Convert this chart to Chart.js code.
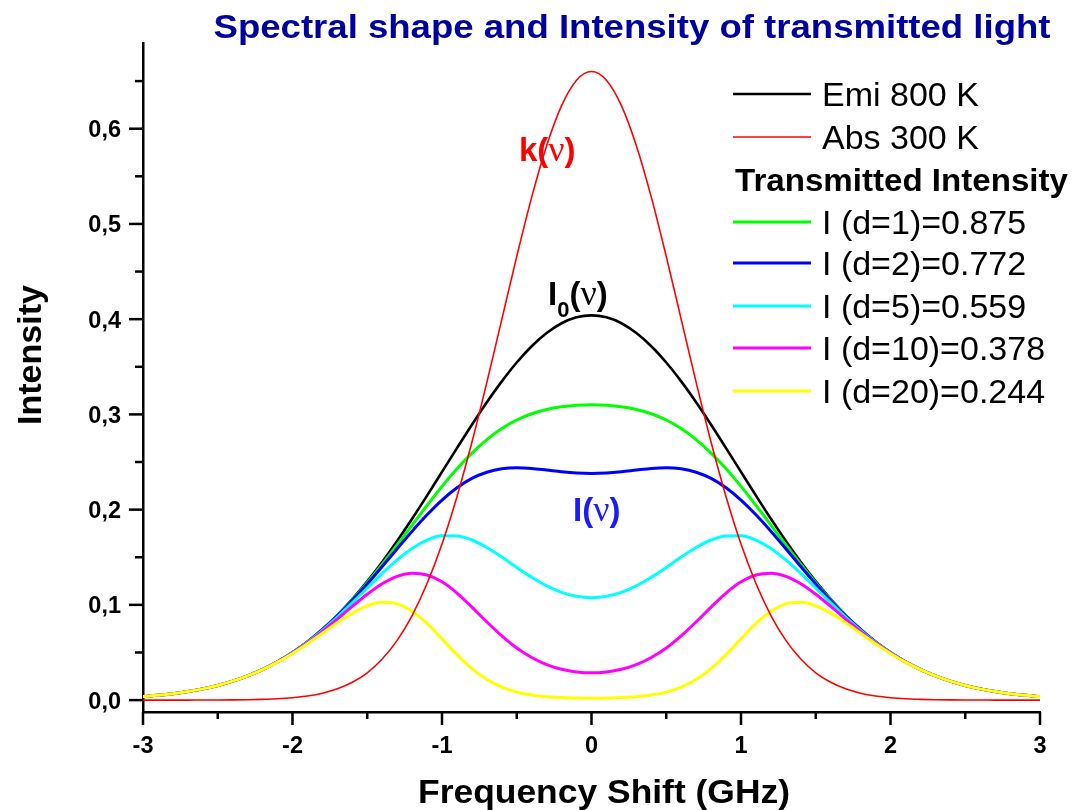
<!DOCTYPE html>
<html>
<head>
<meta charset="utf-8">
<script src="https://cdn.jsdelivr.net/npm/chart.js@4.4.1/dist/chart.umd.min.js"></script>
<style>
  html, body { margin: 0; padding: 0; background: #ffffff; }
  #wrap { width: 1074px; height: 810px; position: relative; }
</style>
</head>
<body>
<div id="wrap"><canvas id="c" width="1074" height="810"></canvas></div>
<script>
// ---- data ----
const freq = [-3.0,-2.9,-2.8,-2.7,-2.6,-2.5,-2.4,-2.3,-2.2,-2.1,-2.0,-1.9,-1.8,-1.7,-1.6,-1.5,-1.4,-1.3,-1.2,-1.1,-1.0,-0.9,-0.8,-0.7,-0.6,-0.5,-0.4,-0.3,-0.2,-0.1,0.0,0.1,0.2,0.3,0.4,0.5,0.6,0.7,0.8,0.9,1.0,1.1,1.2,1.3,1.4,1.5,1.6,1.7,1.8,1.9,2.0,2.1,2.2,2.3,2.4,2.5,2.6,2.7,2.8,2.9,3.0];

const emi800 = [0.0037,0.0050,0.0067,0.0090,0.0118,0.0154,0.0199,0.0255,0.0322,0.0403,0.0500,0.0613,0.0743,0.0893,0.1061,0.1247,0.1451,0.1671,0.1904,0.2147,0.2396,0.2646,0.2892,0.3128,0.3347,0.3545,0.3716,0.3854,0.3957,0.4019,0.4040,0.4019,0.3957,0.3854,0.3716,0.3545,0.3347,0.3128,0.2892,0.2646,0.2396,0.2147,0.1904,0.1671,0.1451,0.1247,0.1061,0.0893,0.0743,0.0613,0.0500,0.0403,0.0322,0.0255,0.0199,0.0154,0.0118,0.0090,0.0067,0.0050,0.0037];

const abs300 = [0.0000,0.0000,0.0000,0.0000,0.0001,0.0001,0.0002,0.0004,0.0008,0.0014,0.0025,0.0043,0.0072,0.0118,0.0187,0.0287,0.0431,0.0627,0.0888,0.1224,0.1639,0.2136,0.2707,0.3336,0.3998,0.4659,0.5282,0.5822,0.6242,0.6509,0.6600,0.6509,0.6242,0.5822,0.5282,0.4659,0.3998,0.3336,0.2707,0.2136,0.1639,0.1224,0.0888,0.0627,0.0431,0.0287,0.0187,0.0118,0.0072,0.0043,0.0025,0.0014,0.0008,0.0004,0.0002,0.0001,0.0001,0.0000,0.0000,0.0000,0.0000];

const transD1 = [0.0037,0.0050,0.0067,0.0090,0.0118,0.0154,0.0199,0.0255,0.0322,0.0403,0.0499,0.0612,0.0741,0.0888,0.1053,0.1233,0.1426,0.1629,0.1837,0.2044,0.2244,0.2429,0.2594,0.2736,0.2852,0.2941,0.3007,0.3052,0.3080,0.3096,0.3101,0.3096,0.3080,0.3052,0.3007,0.2941,0.2852,0.2736,0.2594,0.2429,0.2244,0.2044,0.1837,0.1629,0.1426,0.1233,0.1053,0.0888,0.0741,0.0612,0.0499,0.0403,0.0322,0.0255,0.0199,0.0154,0.0118,0.0090,0.0067,0.0050,0.0037];

const transD2 = [0.0037,0.0050,0.0067,0.0090,0.0118,0.0154,0.0199,0.0255,0.0322,0.0403,0.0499,0.0611,0.0739,0.0884,0.1045,0.1219,0.1402,0.1589,0.1773,0.1946,0.2101,0.2230,0.2328,0.2393,0.2429,0.2440,0.2433,0.2416,0.2398,0.2385,0.2380,0.2385,0.2398,0.2416,0.2433,0.2440,0.2429,0.2393,0.2328,0.2230,0.2101,0.1946,0.1773,0.1589,0.1402,0.1219,0.1045,0.0884,0.0739,0.0611,0.0499,0.0403,0.0322,0.0255,0.0199,0.0154,0.0118,0.0090,0.0067,0.0050,0.0037];

const transD5 = [0.0037,0.0050,0.0067,0.0090,0.0118,0.0154,0.0199,0.0255,0.0322,0.0402,0.0497,0.0608,0.0733,0.0872,0.1022,0.1177,0.1331,0.1473,0.1593,0.1680,0.1725,0.1724,0.1681,0.1602,0.1502,0.1393,0.1289,0.1199,0.1132,0.1090,0.1076,0.1090,0.1132,0.1199,0.1289,0.1393,0.1502,0.1602,0.1681,0.1724,0.1725,0.1680,0.1593,0.1473,0.1331,0.1177,0.1022,0.0872,0.0733,0.0608,0.0497,0.0402,0.0322,0.0255,0.0199,0.0154,0.0118,0.0090,0.0067,0.0050,0.0037];

const transD10 = [0.0037,0.0050,0.0067,0.0090,0.0118,0.0154,0.0199,0.0254,0.0321,0.0401,0.0495,0.0602,0.0722,0.0851,0.0984,0.1111,0.1221,0.1299,0.1333,0.1314,0.1242,0.1124,0.0977,0.0821,0.0674,0.0547,0.0447,0.0373,0.0324,0.0296,0.0286,0.0296,0.0324,0.0373,0.0447,0.0547,0.0674,0.0821,0.0977,0.1124,0.1242,0.1314,0.1333,0.1299,0.1221,0.1111,0.0984,0.0851,0.0722,0.0602,0.0495,0.0401,0.0321,0.0254,0.0199,0.0154,0.0118,0.0090,0.0067,0.0050,0.0037];

const transD20 = [0.0037,0.0050,0.0067,0.0090,0.0118,0.0154,0.0199,0.0254,0.0320,0.0399,0.0490,0.0592,0.0702,0.0812,0.0913,0.0990,0.1027,0.1010,0.0934,0.0805,0.0643,0.0477,0.0330,0.0216,0.0136,0.0084,0.0054,0.0036,0.0026,0.0022,0.0020,0.0022,0.0026,0.0036,0.0054,0.0084,0.0136,0.0216,0.0330,0.0477,0.0643,0.0805,0.0934,0.1010,0.1027,0.0990,0.0913,0.0812,0.0702,0.0592,0.0490,0.0399,0.0320,0.0254,0.0199,0.0154,0.0118,0.0090,0.0067,0.0050,0.0037];

const seriesLabels = ['Emi 800 K','Abs 300 K','I (d=1)=0.875','I (d=2)=0.772','I (d=5)=0.559','I (d=10)=0.378','I (d=20)=0.244'];
const legendHeader = 'Transmitted Intensity';

const xTickValues = [-3,-2,-1,0,1,2,3];
const xTickLabels = ['-3','-2','-1','0','1','2','3'];
const xMinorValues = [-2.5,-1.5,-0.5,0.5,1.5,2.5];
const yTickValues = [0,0.1,0.2,0.3,0.4,0.5,0.6];
const yTickLabels = ['0,0','0,1','0,2','0,3','0,4','0,5','0,6'];
const yMinorValues = [0.05,0.15,0.25,0.35,0.45,0.55,0.65];

const titleText = 'Spectral shape and Intensity of transmitted light';
const xTitle = 'Frequency Shift (GHz)';
const yTitle = 'Intensity';

// ---- styling ----
const colors = ['#000000','#ff0000','#00ff00','#0000ff','#00ffff','#ff00ff','#ffff00'];
const widths = [2.6,1.6,3,3,3,3,3];
const drawOrder = [6,0,5,4,3,2,1];
const SANS = '"Liberation Sans", Arial, sans-serif';
const SERIF = '"Liberation Serif", "DejaVu Serif", serif';

const allSeries = [emi800, abs300, transD1, transD2, transD5, transD10, transD20];
const datasets = allSeries.map((vals, i) => ({
  label: seriesLabels[i],
  data: freq.map((f, j) => ({x: f, y: vals[j]})),
  borderColor: colors[i],
  backgroundColor: colors[i],
  borderWidth: widths[i],
  pointRadius: 0,
  fill: false,
  cubicInterpolationMode: 'monotone',
  order: drawOrder[i]
}));

// draw text, scaled horizontally so that it spans a given width when one is given
function fitText(ctx, text, x, y, font, color, align, targetW) {
  ctx.save();
  ctx.font = font;
  ctx.fillStyle = color;
  ctx.textBaseline = 'alphabetic';
  ctx.textAlign = 'left';
  const nat = ctx.measureText(text).width;
  const sx = targetW ? targetW / nat : 1;
  const w = nat * sx;
  let x0 = x;
  if (align === 'center') x0 = x - w / 2;
  else if (align === 'right') x0 = x - w;
  ctx.translate(x0, y);
  ctx.scale(sx, 1);
  ctx.fillText(text, 0, 0);
  ctx.restore();
  return w;
}

function richText(ctx, parts, x, y) {
  let cx = x;
  parts.forEach(p => {
    cx += fitText(ctx, p.t, cx, y + (p.dy || 0), p.font, p.color, 'left');
  });
}

const decor = {
  id: 'decor',
  afterDraw(chart) {
    const ctx = chart.ctx;
    const xs = chart.scales.x, ys = chart.scales.y;
    const ca = chart.chartArea;
    ctx.save();
    ctx.strokeStyle = '#000';
    ctx.lineWidth = 2.5;
    const yAxisX = ca.left;
    yTickValues.forEach(v => {
      const py = ys.getPixelForValue(v);
      ctx.beginPath(); ctx.moveTo(yAxisX - 14, py); ctx.lineTo(yAxisX, py); ctx.stroke();
    });
    yMinorValues.forEach(v => {
      const py = ys.getPixelForValue(v);
      ctx.beginPath(); ctx.moveTo(yAxisX - 8, py); ctx.lineTo(yAxisX, py); ctx.stroke();
    });
    const xAxisY = ca.bottom;
    xTickValues.forEach(v => {
      const px = xs.getPixelForValue(v);
      ctx.beginPath(); ctx.moveTo(px, xAxisY); ctx.lineTo(px, xAxisY + 13); ctx.stroke();
    });
    xMinorValues.forEach(v => {
      const px = xs.getPixelForValue(v);
      ctx.beginPath(); ctx.moveTo(px, xAxisY); ctx.lineTo(px, xAxisY + 7); ctx.stroke();
    });
    ctx.restore();

    // tick labels
    const tickFont = 'bold 23.5px ' + SANS;
    yTickValues.forEach((v, i) => {
      const py = ys.getPixelForValue(v);
      fitText(ctx, yTickLabels[i], yAxisX - 22, py + 8.5, tickFont, '#000', 'right');
    });
    xTickValues.forEach((v, i) => {
      const px = xs.getPixelForValue(v);
      fitText(ctx, xTickLabels[i], px, xAxisY + 41, tickFont, '#000', 'center');
    });

    // title and axis titles
    fitText(ctx, titleText, 632, 38, 'bold 34px ' + SANS, '#0000a0', 'center', 837);
    fitText(ctx, xTitle, 604, 803, 'bold 33px ' + SANS, '#000', 'center', 372);
    ctx.save();
    ctx.translate(41, 355);
    ctx.rotate(-Math.PI / 2);
    fitText(ctx, yTitle, 0, 0, 'bold 33px ' + SANS, '#000', 'center', 140);
    ctx.restore();

    // legend
    const legRows = [94, 137, 222, 263, 306, 348, 391];
    const lx0 = 733, lx1 = 811, tx = 822;
    legRows.forEach((ry, i) => {
      ctx.save();
      ctx.strokeStyle = colors[i];
      ctx.lineWidth = widths[i];
      ctx.beginPath(); ctx.moveTo(lx0, ry); ctx.lineTo(lx1, ry); ctx.stroke();
      ctx.restore();
      fitText(ctx, seriesLabels[i], tx, ry + 12, '34px ' + SANS, '#000', 'left');
    });
    fitText(ctx, legendHeader, 735, 191, 'bold 32px ' + SANS, '#000', 'left', 333);

    // curve annotations
    const bF = 'bold 33px ' + SANS;
    const nuF = '36px ' + SERIF;
    richText(ctx, [
      {t: 'k', font: bF, color: '#ff0000'},
      {t: '(', font: bF, color: '#ff0000'},
      {t: 'ν', font: nuF, color: '#ff0000'},
      {t: ')', font: bF, color: '#ff0000'}
    ], 519, 161);
    richText(ctx, [
      {t: 'I', font: bF, color: '#000'},
      {t: '0', font: 'bold 22px ' + SANS, color: '#000', dy: 12},
      {t: '(', font: bF, color: '#000'},
      {t: 'ν', font: nuF, color: '#000'},
      {t: ')', font: bF, color: '#000'}
    ], 548, 305);
    richText(ctx, [
      {t: 'I', font: bF, color: '#1a1aff'},
      {t: '(', font: bF, color: '#1a1aff'},
      {t: 'ν', font: nuF, color: '#1a1aff'},
      {t: ')', font: bF, color: '#1a1aff'}
    ], 573, 521);
  }
};

new Chart(document.getElementById('c'), {
  type: 'line',
  data: { datasets },
  options: {
    responsive: false,
    devicePixelRatio: 1,
    animation: false,
    layout: { padding: { left: 143, right: 34, top: 43, bottom: 98 } },
    plugins: { legend: { display: false }, title: { display: false }, tooltip: { enabled: false } },
    scales: {
      x: {
        type: 'linear', min: -3, max: 3,
        ticks: { display: false },
        grid: { display: false, drawTicks: false },
        border: { display: true, color: '#000', width: 2.5 }
      },
      y: {
        type: 'linear', min: -0.0125, max: 0.69,
        ticks: { display: false },
        grid: { display: false, drawTicks: false },
        border: { display: true, color: '#000', width: 2.5 }
      }
    }
  },
  plugins: [decor]
});
</script>
</body>
</html>
